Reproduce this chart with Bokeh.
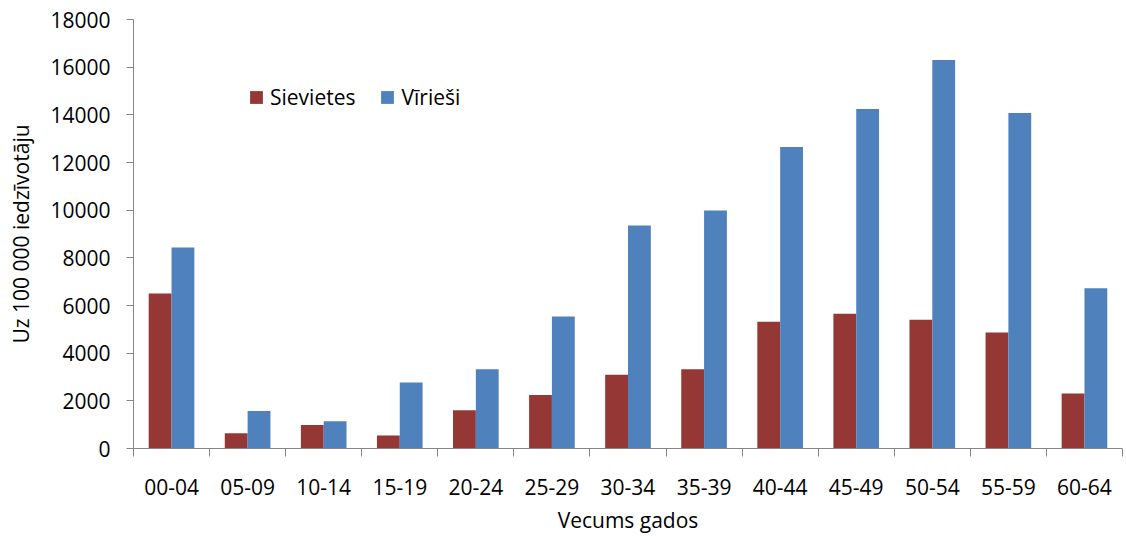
from bokeh.plotting import figure
from bokeh.models import ColumnDataSource, FixedTicker, Range1d, Legend, LegendItem
from bokeh.transform import dodge
from bokeh.embed import file_html
from bokeh.resources import INLINE

# Age groups and rates per 100 000 inhabitants
age_groups = ["00-04", "05-09", "10-14", "15-19", "20-24", "25-29", "30-34",
              "35-39", "40-44", "45-49", "50-54", "55-59", "60-64"]
sievietes = [6500, 640, 990, 550, 1610, 2250, 3090, 3330, 5320, 5650, 5400, 4870, 2310]
virieshi = [8430, 1570, 1140, 2770, 3330, 5540, 9360, 9990, 12650, 14250, 16300, 14080, 6720]
y_ticks = list(range(0, 18001, 2000))

FONT = "Open Sans"
FS = "21px"
AXIS_GREY = "#868686"
RED = "#953735"
BLUE = "#4F81BD"

centers = [i + 0.5 for i in range(len(age_groups))]
source = ColumnDataSource(dict(x=centers, sievietes=sievietes, virieshi=virieshi))

p = figure(width=1126, height=536,
           x_range=Range1d(0, len(age_groups)), y_range=Range1d(0, 18000),
           output_backend="svg", toolbar_location=None,
           min_border_left=133, min_border_right=4, min_border_top=19, min_border_bottom=86)
p.outline_line_color = None
p.xgrid.visible = False
p.ygrid.visible = False
p.background_fill_color = "white"
p.border_fill_color = "white"

r_s = p.vbar(x=dodge("x", -0.15), top="sievietes", width=0.3, source=source,
             fill_color=RED, line_color=None)
r_v = p.vbar(x=dodge("x", 0.15), top="virieshi", width=0.3, source=source,
             fill_color=BLUE, line_color=None)

# y axis
ya = p.yaxis[0]
ya.ticker = FixedTicker(ticks=y_ticks)
ya.axis_line_color = AXIS_GREY
ya.major_tick_line_color = AXIS_GREY
ya.major_tick_out = 7
ya.major_tick_in = 0
ya.minor_tick_out = 0
ya.minor_tick_in = 0
ya.major_label_standoff = 16
ya.major_label_text_font = FONT
ya.major_label_text_font_size = FS
ya.major_label_text_color = "black"
ya.axis_label = "Uz 100 000 iedzīvotāju"
ya.axis_label_text_font = FONT
ya.axis_label_text_font_size = FS
ya.axis_label_text_font_style = "normal"
ya.axis_label_text_color = "black"
ya.axis_label_standoff = 12

# x axis: labels at group centres, ticks between groups
xa = p.xaxis[0]
xa.ticker = FixedTicker(ticks=centers, minor_ticks=list(range(len(age_groups) + 1)))
xa.major_label_overrides = {c: lbl for c, lbl in zip(centers, age_groups)}
xa.axis_line_color = AXIS_GREY
xa.major_tick_out = 0
xa.major_tick_in = 0
xa.minor_tick_line_color = AXIS_GREY
xa.minor_tick_out = 8
xa.minor_tick_in = 0
xa.major_label_standoff = 22
xa.major_label_text_font = FONT
xa.major_label_text_font_size = FS
xa.major_label_text_color = "black"
xa.axis_label = "Vecums gados"
xa.axis_label_text_font = FONT
xa.axis_label_text_font_size = FS
xa.axis_label_text_font_style = "normal"
xa.axis_label_text_color = "black"
xa.axis_label_standoff = 8

legend = Legend(items=[LegendItem(label="Sievietes", renderers=[r_s]),
                       LegendItem(label="Vīrieši", renderers=[r_v])],
                orientation="horizontal", location=(115, 337),
                glyph_width=16, glyph_height=16, label_standoff=6, spacing=24,
                padding=0, margin=0, border_line_color=None,
                background_fill_alpha=0, label_text_font=FONT,
                label_text_font_size=FS, label_text_color="black")
p.add_layout(legend)

open("out.html", "w").write(file_html(p, INLINE))
